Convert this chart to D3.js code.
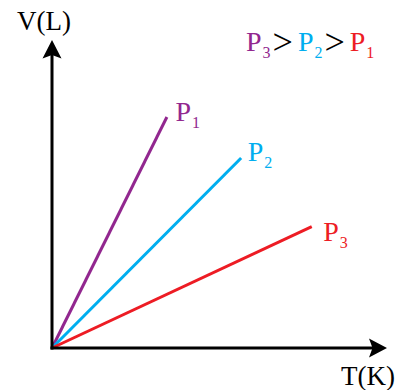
<!DOCTYPE html>
<html>
<head>
<meta charset="utf-8">
<script src="https://cdn.jsdelivr.net/npm/d3@7"></script>
<style>
  html, body { margin: 0; padding: 0; background: #fff; }
  svg { display: block; }
</style>
</head>
<body>
<svg id="chart" width="416" height="390"></svg>
<script>
// Isobars: volume vs temperature for three pressures (arbitrary units)
const series = ["P1", "P2", "P3"];
const endT = [34.5, 56.8, 78.0];
const endV = [75.0, 61.7, 39.4];
const lineColors = ["#92278F", "#00AEEF", "#ED1C24"];
const legendOrder = ["3", "2", "1"];
const legendColors = ["#92278F", "#00AEEF", "#ED1C24"];

const svg = d3.select("#chart");
const origin = { x: 52, y: 348 };
const x = d3.scaleLinear().domain([0, 100]).range([origin.x, 385]);
const y = d3.scaleLinear().domain([0, 100]).range([origin.y, 40]);

const serif = "'Liberation Serif', 'Times New Roman', serif";

// isobar lines from the origin
const line = d3.line().x(d => x(d[0])).y(d => y(d[1]));
series.forEach((s, i) => {
  svg.append("path")
    .attr("d", line([[0, 0], [endT[i], endV[i]]]))
    .attr("stroke", lineColors[i])
    .attr("stroke-width", 3)
    .attr("fill", "none");
});

// axes
const ax = svg.append("g").attr("stroke", "#000").attr("stroke-width", 3).attr("fill", "none");
ax.append("line").attr("x1", x(0)).attr("y1", y(0) + 1.5).attr("x2", x(0)).attr("y2", y(100) + 10);
ax.append("line").attr("x1", x(0) - 1.5).attr("y1", y(0)).attr("x2", x(100) - 10).attr("y2", y(0));

// arrow heads
const tipY = { x: x(0), y: y(100) };
svg.append("path")
  .attr("d", `M${tipY.x},${tipY.y} L${tipY.x + 9.5},${tipY.y + 18.5} L${tipY.x},${tipY.y + 15} L${tipY.x - 9.5},${tipY.y + 18.5} Z`)
  .attr("fill", "#000");
const tipX = { x: x(100) + 2, y: y(0) };
svg.append("path")
  .attr("d", `M${tipX.x},${tipX.y} L${tipX.x - 18},${tipX.y - 9.5} L${tipX.x - 14.5},${tipX.y} L${tipX.x - 18},${tipX.y + 9.5} Z`)
  .attr("fill", "#000");

// axis titles
svg.append("text").attr("x", 17).attr("y", 29.5)
  .attr("font-family", serif).attr("font-size", 27).attr("fill", "#000").text("V(L)");
svg.append("text").attr("x", 341).attr("y", 385)
  .attr("font-family", serif).attr("font-size", 27).attr("fill", "#000").text("T(K)");

// P with subscript helper
function pLabel(g, px, py, sub, color) {
  const t = g.append("text").attr("x", px).attr("y", py)
    .attr("font-family", serif).attr("font-size", 28).attr("fill", color);
  t.append("tspan").text("P");
  t.append("tspan").attr("font-size", 16).attr("dx", 1).attr("dy", 7).text(sub);
  return t;
}

// line end labels, offset from each line's end point
const labelOffset = [[8.5, 4], [6.5, 3], [11.5, 14.5]];
series.forEach((s, i) => {
  pLabel(svg, x(endT[i]) + labelOffset[i][0], y(endV[i]) + labelOffset[i][1], s.slice(1), lineColors[i]);
});

// pressure ordering legend
let lx = 246;
const ly = 51;
legendOrder.forEach((sub, i) => {
  const t = pLabel(svg, lx, ly, sub, legendColors[i]);
  const w = t.node().getComputedTextLength();
  lx += w + 3;
  if (i < legendOrder.length - 1) {
    const gt = svg.append("text").attr("x", lx).attr("y", ly + 3)
      .attr("font-family", serif).attr("font-size", 36).attr("fill", "#000").text(">");
    lx += gt.node().getComputedTextLength() + 5;
  }
});
</script>
</body>
</html>
